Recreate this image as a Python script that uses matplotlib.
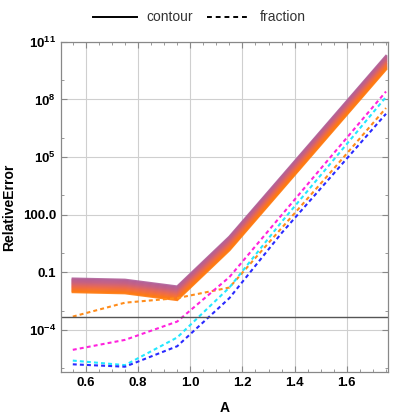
#!/usr/bin/env python3
"""
Relative error of contour vs fraction evaluation against A (log scale).
"""

import matplotlib

matplotlib.use("Agg")
import matplotlib.pyplot as plt
from matplotlib.colors import LinearSegmentedColormap
from matplotlib.lines import Line2D
from matplotlib.ticker import FixedLocator, FixedFormatter, MultipleLocator

plt.rcParams["font.family"] = ["Liberation Sans", "DejaVu Sans"]
plt.rcParams["mathtext.fontset"] = "custom"
plt.rcParams["mathtext.rm"] = "Liberation Sans"
plt.rcParams["mathtext.bf"] = "Liberation Sans:bold"
plt.rcParams["mathtext.default"] = "bf"

# ---- data ----
a_vals = [0.55, 0.75, 0.95, 1.15, 1.35, 1.55, 1.75]

# lowest member of the contour family; the others sit above it by these factors
contour_base = [9.3e-3, 8.1e-3, 3.6e-3, 1.41, 1.95e3, 2.7e6, 3.7e9]
contour_factors = [1.0, 1.13, 1.28, 1.45, 1.65, 1.87, 2.1, 2.4, 2.7,
                   3.05, 3.45, 3.9, 4.4, 5.0]

frac_orange = [4.9e-4, 2.6e-3, 4.5e-3, 1.6e-2, 20.0, 2.5e4, 3.6e7]
frac_magenta = [9.1e-6, 3.0e-5, 2.7e-4, 5.6e-2, 95.0, 1.6e5, 2.6e8]
frac_cyan = [2.5e-6, 1.45e-6, 4.0e-5, 1.6e-2, 42.0, 7.4e4, 1.35e8]
frac_blue = [1.6e-6, 1.2e-6, 1.4e-5, 4.5e-3, 11.0, 1.4e4, 1.8e7]

threshold = 4.6e-4

y_major = [1e-4, 1e-1, 1e2, 1e5, 1e8, 1e11]
y_major_labels = [r"$10^{-4}$", "0.1", "100.0", r"$10^{5}$", r"$10^{8}$", r"$10^{11}$"]
y_minor = [1e-6, 1e-3, 1e0, 1e3, 1e6, 1e9]
x_major = [0.6, 0.8, 1.0, 1.2, 1.4, 1.6]


def main() -> None:
    fig = plt.figure(figsize=(3.99, 4.19), dpi=100)
    ax = fig.add_axes([0.153, 0.112, 0.819, 0.788])

    cmap = LinearSegmentedColormap.from_list("band", ["#ff7a10", "#ee6a4a", "#c86080", "#b0609a"])
    n = len(contour_factors)
    for i, f in enumerate(reversed(contour_factors)):
        k = n - 1 - i
        ax.plot(a_vals, [v * f for v in contour_base], "-", lw=1.7,
                color=cmap(k / (n - 1)), alpha=0.9, solid_joinstyle="miter")

    dash = (0, (1.9, 1.5))
    ax.plot(a_vals, frac_orange, ls=dash, lw=1.5, color="#ff8c1a")
    ax.plot(a_vals, frac_magenta, ls=dash, lw=1.5, color="#ff22dd")
    ax.plot(a_vals, frac_cyan, ls=dash, lw=1.5, color="#22e8ff")
    ax.plot(a_vals, frac_blue, ls=dash, lw=1.5, color="#2a2aff")

    ax.axhline(threshold, color="#555555", lw=1.0)

    ax.set_yscale("log")
    ax.set_xlim(0.505, 1.757)
    ax.set_ylim(10 ** -6.2, 1e11)

    ax.yaxis.set_major_locator(FixedLocator(y_major))
    ax.yaxis.set_major_formatter(FixedFormatter(y_major_labels))
    ax.yaxis.set_minor_locator(FixedLocator(y_minor))
    ax.yaxis.set_minor_formatter(FixedFormatter([""] * len(y_minor)))
    ax.xaxis.set_major_locator(FixedLocator(x_major))
    ax.xaxis.set_major_formatter(FixedFormatter([f"{v:.1f}" for v in x_major]))
    ax.xaxis.set_minor_locator(MultipleLocator(0.05))

    ax.tick_params(which="both", direction="in", top=True, right=True,
                   color="#888888", labelsize=9.5)
    ax.tick_params(which="major", length=4, width=0.8)
    ax.tick_params(which="minor", length=2, width=0.6)
    for lab in ax.get_xticklabels() + ax.get_yticklabels():
        lab.set_fontweight("bold")

    ax.grid(which="major", color="#cfcfcf", lw=0.8)
    for s in ax.spines.values():
        s.set_color("#888888")
        s.set_linewidth(0.9)

    ax.set_xlabel("A", fontweight="bold", fontsize=10, labelpad=9)
    ax.set_ylabel("RelativeError", fontweight="bold", fontsize=10, labelpad=5)

    handles = [Line2D([], [], color="black", lw=1.4, ls="-"),
               Line2D([], [], color="black", lw=1.4, ls=(0, (2.5, 2.0)))]
    fig.legend(handles, ["contour", "fraction"], loc="upper center",
               bbox_to_anchor=(0.5, 1.005), ncol=2, frameon=False, fontsize=10,
               handlelength=3.1, columnspacing=1.0, handletextpad=0.7,
               labelcolor="#333333")

    fig.savefig("out.png", dpi=100)
    plt.close(fig)


if __name__ == "__main__":
    main()
